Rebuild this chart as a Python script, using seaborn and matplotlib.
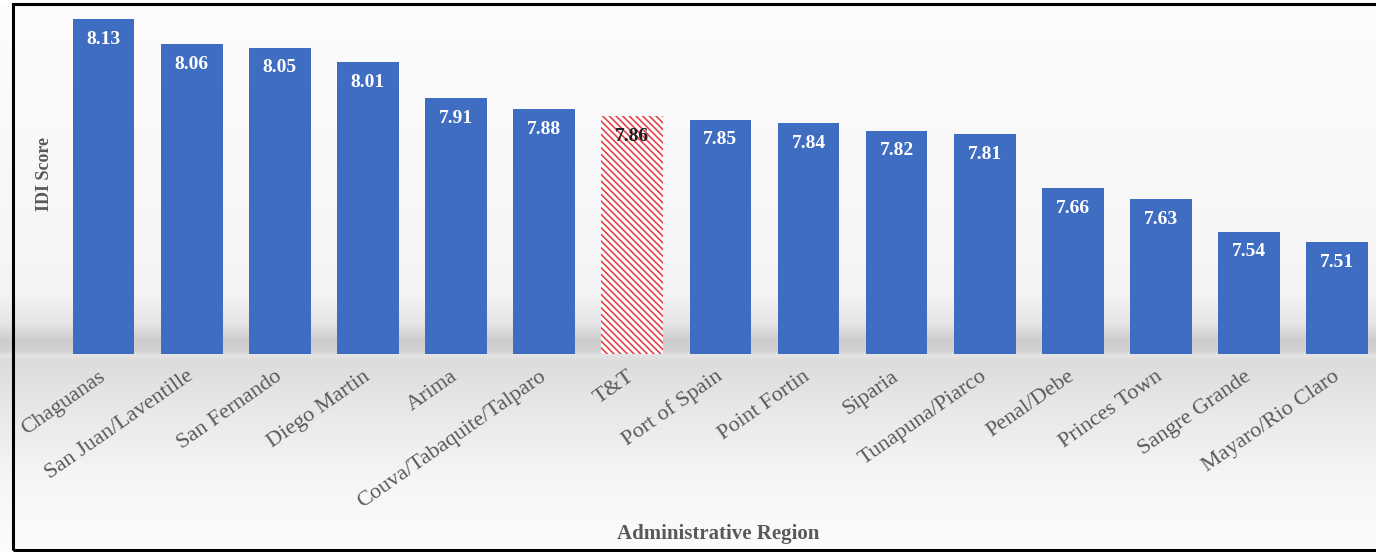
import numpy as np
import matplotlib
matplotlib.use("Agg")
import matplotlib.pyplot as plt
from matplotlib.patches import Rectangle
import seaborn as sns

regions = ["Chaguanas", "San Juan/Laventille", "San Fernando", "Diego Martin", "Arima",
           "Couva/Tabaquite/Talparo", "T&T", "Port of Spain", "Point Fortin", "Siparia",
           "Tunapuna/Piarco", "Penal/Debe", "Princes Town", "Sangre Grande", "Mayaro/Rio Claro"]
scores = [8.13, 8.06, 8.05, 8.01, 7.91, 7.88, 7.86, 7.85, 7.84, 7.82, 7.81, 7.66, 7.63, 7.54, 7.51]
highlight = "T&T"

sns.set_theme(style="white")
plt.rcParams["font.family"] = ["Liberation Serif", "DejaVu Serif"]
plt.rcParams["hatch.linewidth"] = 1.2

W, H = 1376, 552
fig = plt.figure(figsize=(W / 100, H / 100), dpi=100)

# background gradient (figure-wide)
bg = fig.add_axes([0, 0, 1, 1], zorder=-10)
ys = np.arange(H)
anchors_y = [0, 6, 250, 295, 322, 340, 350, 355, 360, 400, 480, 552]
anchors_v = [255, 252, 246, 243, 230, 205, 210, 228, 220, 230, 246, 252]
prof = np.interp(ys, anchors_y, anchors_v) / 255.0
img = np.repeat(prof[:, None], 4, axis=1)
bg.imshow(np.dstack([img, img, img]), aspect="auto", extent=[0, 1, 0, 1], origin="upper")
bg.set_axis_off()

ax = fig.add_axes([59.5 / W, 1 - 354 / H, (W - 59.5) / W, (354 - 5) / H])
ax.set_facecolor("none")

blue = "#3F6DC1"
palette = {r: ("white" if r == highlight else blue) for r in regions}
sns.barplot(x=regions, y=scores, hue=regions, palette=palette, legend=False,
            width=0.7, saturation=1, ax=ax, zorder=3)

for r, p in zip(regions, ax.patches):
    p.set_linewidth(0)
    if r == highlight:
        p.set_facecolor("white")
        p.set_edgecolor("#E5424A")
        p.set_hatch("\\\\\\\\\\")

for i, (r, v) in enumerate(zip(regions, scores)):
    ax.annotate(f"{v:.2f}", xy=(i, v), xytext=(0, -14.4), textcoords="offset points",
                ha="center", va="center", fontsize=14, fontweight="bold",
                color=("#1E1E1E" if r == highlight else "white"), zorder=5)

ax.set_ylim(7.2, 8.169)
ax.set_xlim(-0.5, 14.44)
for s in ax.spines.values():
    s.set_visible(False)
ax.set_yticks([])
ax.tick_params(axis="x", length=0, pad=15)
ax.set_xticks(range(len(regions)))
ax.set_xticklabels(regions, rotation=35, ha="right", va="center",
                   rotation_mode="anchor", fontsize=16, color="#595959")

ax.set_xlabel("Administrative Region", fontsize=15, fontweight="bold", color="#595959", va="top")
ax.xaxis.set_label_coords(0.5, -0.487)
ax.set_ylabel("IDI Score", fontsize=13, fontweight="bold", color="#595959")
ax.yaxis.set_label_coords(-0.0046, 0.517)

# outer frame
fig.add_artist(Rectangle((13 / W, 2 / H), 1.2, (549 - 3) / H, transform=fig.transFigure,
                         fill=False, edgecolor="black", linewidth=2.2, zorder=20))

fig.savefig("out.png", dpi=100)
